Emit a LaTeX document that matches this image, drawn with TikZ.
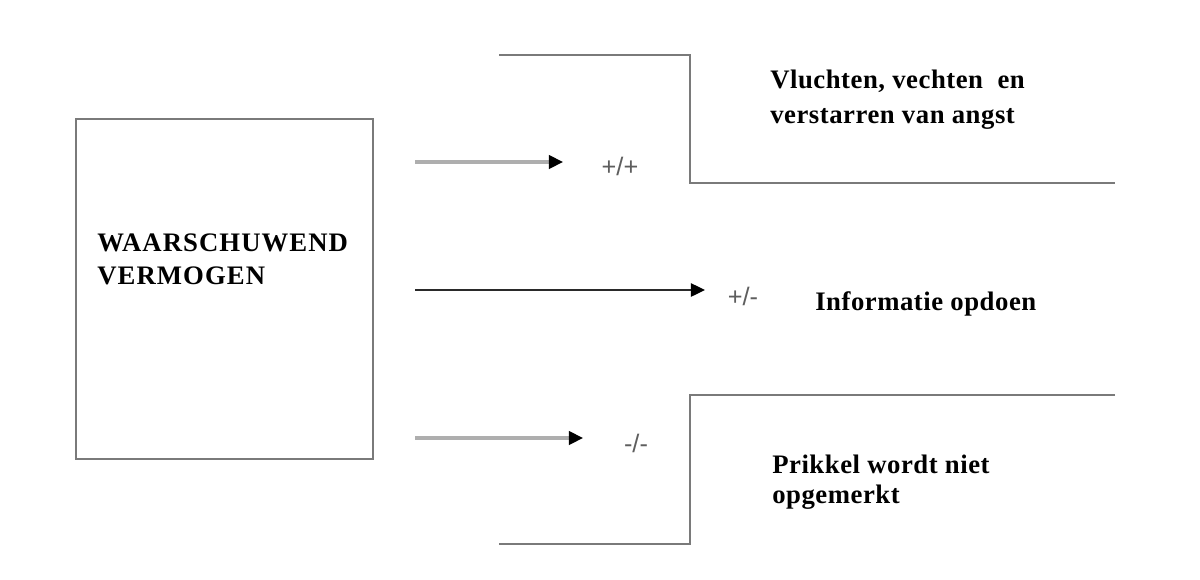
\documentclass[tikz,border=0pt]{standalone}
\usepackage{fontspec}
\setmainfont{Liberation Serif}
\newfontfamily\spacedbf[LetterSpace=2]{Liberation Serif}
\newfontfamily\widebf[LetterSpace=4]{Liberation Serif}
\newfontfamily\signfont{Liberation Sans}
\usetikzlibrary{arrows.meta}
\definecolor{frame}{HTML}{7A7A7A}
\definecolor{lightline}{HTML}{AEAEAE}
\definecolor{darkline}{HTML}{2A2A2A}
\definecolor{signgray}{HTML}{5E5E5E}
\begin{document}
\begin{tikzpicture}[x=0.025cm,y=-0.025cm,
    boxline/.style={draw=frame, line width=1.4pt},
    grayarrow/.style={draw=lightline, line width=2.2pt, -{Triangle[length=10pt,width=9.5pt,fill=black,color=black]}},
    blackarrow/.style={draw=darkline, line width=1pt, -{Triangle[length=10pt,width=9.5pt,fill=black,color=black]}},
    sign/.style={font=\signfont\fontsize{18}{20}\selectfont, text=signgray, inner sep=0pt},
    lbl/.style={font=\spacedbf\bfseries\fontsize{19}{25}\selectfont, align=left, inner sep=0pt}]
  \useasboundingbox (0,0) rectangle (1200,579);
  % left box
  \node[boxline, minimum width=7.425cm, minimum height=8.5cm, inner sep=0pt] (box) at (224.5,289) {};
  \node[lbl, anchor=north west, font=\widebf\bfseries\fontsize{19}{23}\selectfont] (boxtext) at (97,234) {WAARSCHUWEND\\VERMOGEN};
  % brackets
  \draw[boxline] (499,55) -- (690,55) -- (690,183) -- (1115,183);
  \draw[boxline] (1115,395) -- (690,395) -- (690,544) -- (499,544);
  % outcome labels
  \node[lbl, anchor=north west] (flee) at (770,70) {Vluchten, vechten \ en\\verstarren van angst};
  \node[lbl, anchor=base west] (info) at (815,310) {Informatie opdoen};
  \node[lbl, anchor=north west, font=\spacedbf\bfseries\fontsize{19}{21}\selectfont] (miss) at (772,455) {Prikkel wordt niet\\opgemerkt};
  % signs
  \node[sign] (pp) at (620,166) {+/+};
  \node[sign] (pm) at (743,296) {+/-};
  \node[sign] (mm) at (636,443) {-/-};
  % arrows
  \coordinate (s1) at (415,162);
  \coordinate (e1) at (563,162);
  \coordinate (s2) at (415,290);
  \coordinate (e2) at (705,290);
  \coordinate (s3) at (415,438);
  \coordinate (e3) at (583,438);
  \draw[grayarrow] (s1) -- (e1);
  \draw[blackarrow] (s2) -- (e2);
  \draw[grayarrow] (s3) -- (e3);
\end{tikzpicture}
\end{document}
